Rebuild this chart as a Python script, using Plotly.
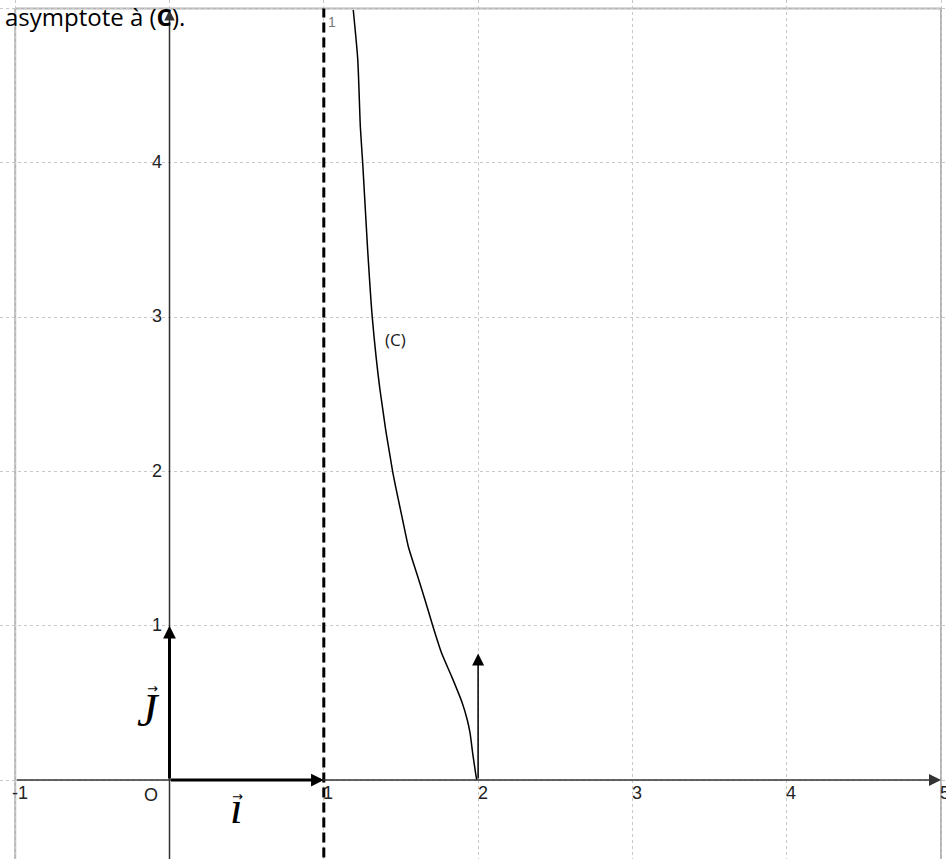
import plotly.graph_objects as go

# ---- data ----
curve_x = [1.191, 1.22, 1.237, 1.252, 1.284, 1.314, 1.364, 1.446, 1.511, 1.548,
           1.602, 1.656, 1.706, 1.764, 1.829, 1.894, 1.93, 1.948, 1.965, 1.984, 1.991]
curve_y = [4.99, 4.67, 4.23, 4.0, 3.44, 3.0, 2.53, 2.0, 1.685, 1.512,
           1.34, 1.167, 1.0, 0.821, 0.670, 0.508, 0.389, 0.303, 0.173, 0.043, 0.0]

asymptote_x = 1
tangent_x = 2
tangent_len = 0.82

x_tick_vals = [-1, 1, 2, 3, 4]
x_tick_labels = ["-1", "1", "2", "3", "4"]
y_tick_vals = [1, 2, 3, 4]
y_tick_labels = ["1", "2", "3", "4"]

title_text = "asymptote à (<b>C</b>)."
curve_label = "(C)"

x_range = [-1.0985, 5.0324]
y_range = [-0.512, 5.055]

fig = go.Figure()

# asymptote (dashed)
fig.add_trace(go.Scatter(x=[asymptote_x, asymptote_x], y=[-0.6, 5.0],
                         mode="lines", line=dict(color="black", width=3, dash="10px,5px"),
                         hoverinfo="skip", showlegend=False))
# curve (C)
fig.add_trace(go.Scatter(x=curve_x, y=curve_y, mode="lines",
                         line=dict(color="black", width=1.5, shape="spline", smoothing=0.6),
                         hoverinfo="skip", showlegend=False))

shapes = []
frame_col = "#b4b4b4"
shapes.append(dict(type="line", xref="x", yref="y", x0=-1, x1=-1, y0=-0.6, y1=5,
                   line=dict(color=frame_col, width=2), layer="below"))
shapes.append(dict(type="line", xref="x", yref="y", x0=5, x1=5, y0=-0.6, y1=5,
                   line=dict(color=frame_col, width=2), layer="below"))
shapes.append(dict(type="line", xref="x", yref="y", x0=-1, x1=5, y0=5, y1=5,
                   line=dict(color=frame_col, width=2), layer="below"))

ann = []

def arrow(x, y, ax, ay, width, size, color="black"):
    ann.append(dict(x=x, y=y, ax=ax, ay=ay, xref="x", yref="y", axref="x", ayref="y",
                    text="", showarrow=True, arrowhead=2, arrowwidth=width,
                    arrowsize=size, arrowcolor=color, standoff=0, startstandoff=0))

# axes
arrow(5.0, 0, -1.0, 0, 1.5, 1.6, "#333333")
arrow(0, 4.99, 0, -0.6, 1.5, 1.4, "#333333")
# unit vectors
arrow(0, 1, 0, 0, 3, 0.85)
arrow(1, 0, 0, 0, 3, 0.85)
# tangent at x=2
arrow(tangent_x, tangent_len, tangent_x, 0, 1.5, 1.6)

tick_font = dict(family="Liberation Sans, Arial", size=18, color="#222222")
for v, t in zip(x_tick_vals, x_tick_labels):
    ann.append(dict(x=v + 0.03, y=-0.085, xref="x", yref="y", text=t, showarrow=False,
                    xanchor="center", yanchor="middle", font=tick_font))
ann.append(dict(x=4.98, y=-0.085, xref="x", yref="y", text="5", showarrow=False,
                xanchor="left", yanchor="middle", font=tick_font))
ann.append(dict(x=-0.12, y=-0.097, xref="x", yref="y", text="O", showarrow=False,
                xanchor="center", yanchor="middle", font=tick_font))
for v, t in zip(y_tick_vals, y_tick_labels):
    ann.append(dict(x=-0.036, y=v + 0.005, xref="x", yref="y", text=t, showarrow=False,
                    xanchor="right", yanchor="middle", font=tick_font))
# small gray label at top of asymptote
ann.append(dict(x=1.053, y=4.913, xref="x", yref="y", text="1", showarrow=False,
                xanchor="center", yanchor="middle",
                font=dict(family="Liberation Sans, Arial", size=14, color="#777777")))

# vector names
vec_font = dict(family="Liberation Serif, DejaVu Serif", size=46, color="black")
ann.append(dict(x=-0.139, y=0.45, xref="x", yref="y", text="<i>J</i>", showarrow=False,
                xanchor="center", yanchor="middle", font=vec_font))
ann.append(dict(x=0.431, y=-0.18, xref="x", yref="y", text="<i>ı</i>", showarrow=False,
                xanchor="center", yanchor="middle", font=vec_font))
arr_font = dict(family="DejaVu Sans", size=13, color="black")
ann.append(dict(x=-0.112, y=0.596, xref="x", yref="y", text="→", showarrow=False,
                xanchor="center", yanchor="middle", font=arr_font))
ann.append(dict(x=0.442, y=-0.104, xref="x", yref="y", text="→", showarrow=False,
                xanchor="center", yanchor="middle", font=arr_font))

# curve label
ann.append(dict(x=1.465, y=2.858, xref="x", yref="y", text=curve_label, showarrow=False,
                xanchor="center", yanchor="middle",
                font=dict(family="Open Sans", size=17, color="#1a1a1a")))
# title-ish text at top left
ann.append(dict(x=0, y=1, xref="paper", yref="paper", xshift=3, yshift=2, text=title_text,
                showarrow=False, xanchor="left", yanchor="top",
                font=dict(family="Open Sans", size=24, color="black")))

fig.update_layout(
    width=946, height=859, autosize=False,
    margin=dict(l=0, r=0, t=0, b=0, pad=0),
    paper_bgcolor="white", plot_bgcolor="white",
    shapes=shapes, annotations=ann, showlegend=False,
    xaxis=dict(range=x_range, tick0=0, dtick=1, showgrid=True, gridcolor="#c8c8c8",
               griddash="dot", gridwidth=1, zeroline=False, showline=False,
               showticklabels=False, ticks="", fixedrange=True),
    yaxis=dict(range=y_range, tick0=0, dtick=1, showgrid=True, gridcolor="#c8c8c8",
               griddash="dot", gridwidth=1, zeroline=False, showline=False,
               showticklabels=False, ticks="", fixedrange=True),
)

fig.write_html(
    "out.html",
    config={"displayModeBar": False},
    post_script="document.body.style.margin='0';document.body.style.overflow='hidden';"
                "document.documentElement.style.overflow='hidden';",
)
